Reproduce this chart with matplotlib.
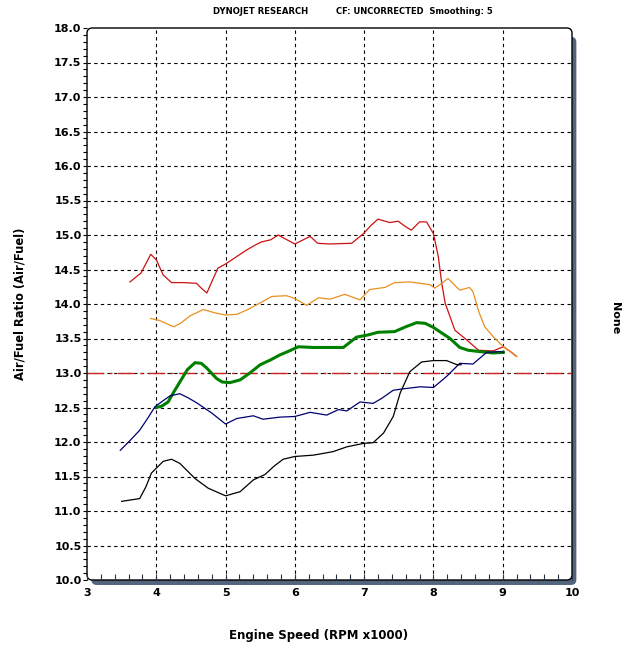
import matplotlib.pyplot as plt
from matplotlib.patches import FancyBboxPatch
from matplotlib.ticker import MultipleLocator, FormatStrFormatter

# Datos (rpm x1000, relacion aire/combustible)
rojo_x = [3.62, 3.78, 3.92, 4.0, 4.1, 4.22, 4.4, 4.58, 4.66, 4.73, 4.8, 4.89, 5.0, 5.15, 5.3, 5.42,
          5.52, 5.65, 5.76, 5.85, 6.0, 6.1, 6.22, 6.33, 6.5, 6.82, 6.99, 7.1, 7.2, 7.37, 7.49, 7.6,
          7.68, 7.8, 7.9, 8.0, 8.07, 8.12, 8.17, 8.31, 8.48, 8.65, 8.86, 9.01, 9.1, 9.2]
rojo_y = [14.32, 14.45, 14.72, 14.64, 14.42, 14.31, 14.31, 14.30, 14.22, 14.16, 14.32, 14.52, 14.58,
          14.68, 14.78, 14.85, 14.90, 14.93, 15.0, 14.95, 14.87, 14.92, 14.98, 14.88, 14.87, 14.88,
          15.02, 15.14, 15.23, 15.18, 15.20, 15.12, 15.07, 15.19, 15.19, 15.02, 14.69, 14.3, 14.01,
          13.62, 13.48, 13.33, 13.32, 13.38, 13.32, 13.24]

naranja_x = [3.92, 4.05, 4.25, 4.35, 4.49, 4.68, 4.85, 5.0, 5.16, 5.3, 5.45, 5.67, 5.88, 6.0, 6.17,
             6.34, 6.51, 6.72, 6.94, 7.08, 7.3, 7.44, 7.66, 7.95, 8.02, 8.12, 8.21, 8.3, 8.38, 8.52,
             8.57, 8.65, 8.74, 8.86, 9.01, 9.2]
naranja_y = [13.79, 13.76, 13.67, 13.72, 13.83, 13.92, 13.87, 13.84, 13.85, 13.91, 13.99, 14.11, 14.12,
             14.08, 13.98, 14.09, 14.07, 14.14, 14.06, 14.21, 14.24, 14.31, 14.32, 14.28, 14.23, 14.3,
             14.37, 14.28, 14.20, 14.24, 14.18, 13.9, 13.67, 13.53, 13.38, 13.24]

verde_x = [4.0, 4.08, 4.17, 4.25, 4.34, 4.45, 4.56, 4.65, 4.73, 4.87, 4.95, 5.06, 5.21, 5.35, 5.5,
           5.65, 5.78, 5.92, 6.05, 6.27, 6.5, 6.70, 6.89, 7.05, 7.20, 7.44, 7.6, 7.76, 7.88, 8.0,
           8.12, 8.24, 8.38, 8.5, 8.67, 8.86, 9.01]
verde_y = [12.50, 12.52, 12.58, 12.72, 12.87, 13.05, 13.15, 13.14, 13.07, 12.92, 12.87, 12.86, 12.90,
           13.0, 13.12, 13.19, 13.26, 13.32, 13.38, 13.37, 13.37, 13.37, 13.52, 13.55, 13.59, 13.60,
           13.67, 13.73, 13.72, 13.66, 13.58, 13.50, 13.37, 13.33, 13.31, 13.29, 13.30]

azul_x = [3.48, 3.62, 3.76, 3.88, 3.98, 4.1, 4.20, 4.34, 4.46, 4.58, 4.8, 5.0, 5.16, 5.40, 5.54,
          5.78, 6.0, 6.22, 6.46, 6.63, 6.75, 6.94, 7.13, 7.25, 7.42, 7.56, 7.81, 8.0, 8.19, 8.38,
          8.57, 8.77, 8.96, 9.01]
azul_y = [11.88, 12.02, 12.17, 12.35, 12.51, 12.6, 12.67, 12.70, 12.64, 12.57, 12.42, 12.26, 12.34,
          12.38, 12.33, 12.36, 12.37, 12.43, 12.39, 12.47, 12.45, 12.58, 12.56, 12.63, 12.75, 12.77,
          12.80, 12.79, 12.95, 13.14, 13.13, 13.30, 13.31, 13.30]

negro_x = [3.50, 3.76, 3.85, 3.93, 4.10, 4.22, 4.34, 4.45, 4.56, 4.75, 5.0, 5.21, 5.40, 5.57, 5.7,
           5.83, 6.0, 6.27, 6.55, 6.75, 6.99, 7.13, 7.28, 7.42, 7.52, 7.66, 7.83, 8.0, 8.19, 8.34, 8.4]
negro_y = [11.14, 11.18, 11.35, 11.55, 11.72, 11.75, 11.69, 11.58, 11.47, 11.33, 11.22, 11.28, 11.45,
           11.53, 11.65, 11.75, 11.79, 11.81, 11.86, 11.93, 11.98, 11.99, 12.13, 12.37, 12.71, 13.02,
           13.16, 13.18, 13.18, 13.12, 13.12]

referencia = 13.0

fig = plt.figure(figsize=(6.37, 6.53), dpi=100)
ax = fig.add_axes([87 / 637, 1 - 580 / 653, 485 / 637, 552 / 653])

# marco redondeado con sombra
sombra = FancyBboxPatch((0.009, -0.009), 1.0, 0.993, boxstyle="round,pad=0,rounding_size=0.011",
                        transform=ax.transAxes, facecolor='#52657d', edgecolor='none',
                        clip_on=False, zorder=-2, mutation_aspect=485 / 552)
marco = FancyBboxPatch((0, 0), 1.0, 1.0, boxstyle="round,pad=0,rounding_size=0.011",
                       transform=ax.transAxes, facecolor='white', edgecolor='black',
                       linewidth=1.0, clip_on=False, zorder=-1, mutation_aspect=485 / 552)
ax.add_patch(sombra)
ax.add_patch(marco)
ax.patch.set_visible(False)
for s in ax.spines.values():
    s.set_visible(False)

ax.set_xlim(3, 10)
ax.set_ylim(10, 18)

ax.xaxis.set_major_locator(MultipleLocator(1))
ax.xaxis.set_minor_locator(MultipleLocator(0.2))
ax.yaxis.set_major_locator(MultipleLocator(0.5))
ax.yaxis.set_minor_locator(MultipleLocator(0.1))
ax.yaxis.set_major_formatter(FormatStrFormatter('%.1f'))

ax.tick_params(axis='y', which='both', direction='out', length=3, width=0.8, color='black',
               labelsize=8, pad=1)
ax.tick_params(axis='x', which='both', direction='in', length=4, width=0.8, color='#2a3545',
               labelsize=8, pad=6)
for lab in ax.get_xticklabels() + ax.get_yticklabels():
    lab.set_fontweight('bold')

# rejilla punteada
for xv in range(4, 10):
    ax.axvline(xv, color='black', linestyle=(0, (3, 3)), linewidth=0.8, zorder=0)
for k in range(1, 16):
    ax.axhline(10 + 0.5 * k, color='black', linestyle=(0, (3, 3)), linewidth=0.8, zorder=0)

ax.axhline(referencia, color='#cc2222', linestyle=(0, (12, 4, 2, 4)), linewidth=1.0, zorder=1)

ax.plot(rojo_x, rojo_y, color='#cc1111', linewidth=0.9)
ax.plot(naranja_x, naranja_y, color='#e89020', linewidth=0.9)
ax.plot(verde_x, verde_y, color='#008000', linewidth=2.2)
ax.plot(azul_x, azul_y, color='#000070', linewidth=0.9)
ax.plot(negro_x, negro_y, color='black', linewidth=0.9)

fig.text(0.335, 0.983, 'DYNOJET RESEARCH', fontsize=6.1, fontweight='bold', va='center')
fig.text(0.527, 0.983, 'CF: UNCORRECTED  Smoothing: 5', fontsize=6, fontweight='bold', va='center')
fig.text(0.032, 0.535, 'Air/Fuel Ratio (Air/Fuel)', rotation=90, fontsize=8.3, fontweight='bold',
         ha='center', va='center')
fig.text(0.5, 0.027, 'Engine Speed (RPM x1000)', fontsize=8.5, fontweight='bold',
         ha='center', va='center')
fig.text(0.965, 0.513, 'None', rotation=-90, fontsize=8, fontweight='bold', ha='center', va='center')

fig.savefig('out.png', dpi=100)
